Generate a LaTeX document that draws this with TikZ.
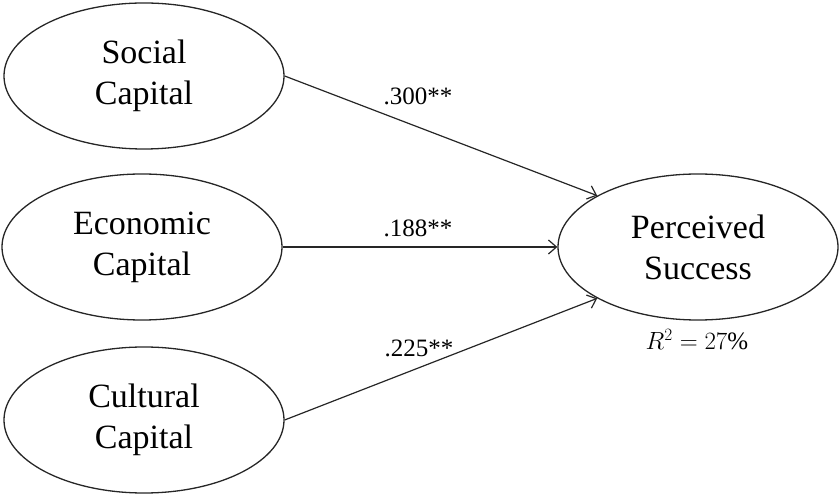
\documentclass[tikz,border=0pt]{standalone}
\usepackage{fontspec}
\setmainfont{Liberation Serif}
\usetikzlibrary{shapes.geometric, arrows.meta}

\begin{document}
\begin{tikzpicture}[x=1pt, y=1pt]

\tikzstyle{latent} = [ellipse, draw=black!85, line width=1.3pt, minimum width=280pt, minimum height=146pt, inner sep=0pt, align=center, font=\fontsize{34}{41}\selectfont]
\tikzstyle{coef} = [anchor=base, inner sep=0pt, font=\fontsize{25}{30}\selectfont]
\tikzstyle{effect} = [draw=black!85, line width=1.2pt, -{Straight Barb[length=8pt, width=14pt]}]

\useasboundingbox (0,0) rectangle (840,495);

\node[latent] (soc) at (144,419) {Social\\Capital};
\node[latent] (eco) at (142,248) {Economic\\Capital};
\node[latent] (cul) at (144,75)  {Cultural\\Capital};

\node[latent] (per) at (698,248) {Perceived\\Success};

\node[coef] (csoc) at (418,390) {.300**};
\node[coef] (ceco) at (418,258) {.188**};
\node[coef] (ccul) at (419,138) {.225**};
\node[coef] (rsq)  at (697,145) {$R^2 = 27\%$};

\draw[effect] (soc.east) -- (per.153);
\draw[effect] (eco.east) -- (per.west);
\draw[effect] (cul.east) -- (per.207);

\end{tikzpicture}
\end{document}
